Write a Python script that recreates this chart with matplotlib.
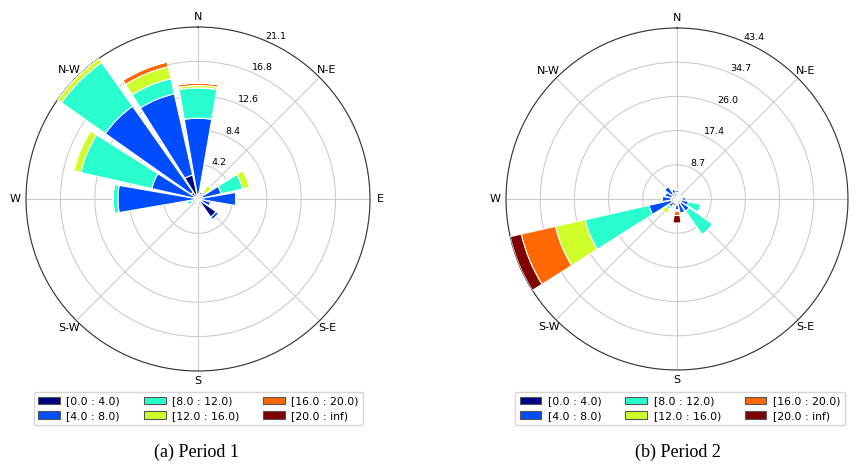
import numpy as np
import matplotlib
matplotlib.use('Agg')
import matplotlib.pyplot as plt
from matplotlib.patches import Patch

# 16 wind directions, clockwise from north
directions = ['N', 'NNE', 'NE', 'ENE', 'E', 'ESE', 'SE', 'SSE',
              'S', 'SSW', 'SW', 'WSW', 'W', 'WNW', 'NW', 'NNW']
dir_labels = ['N', 'N-E', 'E', 'S-E', 'S', 'S-W', 'W', 'N-W']
speed_bins = ['[0.0 : 4.0)', '[4.0 : 8.0)', '[8.0 : 12.0)',
              '[12.0 : 16.0)', '[16.0 : 20.0)', '[20.0 : inf)']

# frequency (%) per direction, one list per speed bin
p1_0_4 = [0.3, 0.6, 0.3, 0.3, 0.3, 0.4, 2.7, 0.8, 0.4, 0.3, 0.2, 0.2, 0.3, 0.5, 1.0, 3.0]
p1_4_8 = [9.6, 0.3, 0.5, 2.6, 4.4, 1.2, 0.4, 0.2, 0.2, 0.2, 0.1, 0.6, 9.5, 5.3, 12.9, 10.2]
p1_8_12 = [3.7, 0, 0.3, 2.7, 0, 0, 0, 0, 0, 0, 0, 0.6, 0.6, 8.9, 6.56, 1.9]
p1_12_16 = [0.3, 0, 1.0, 0.9, 0, 0, 0, 0, 0, 0, 0, 0, 0, 0.9, 0.6, 1.5]
p1_16_20 = [0.3, 0, 0, 0, 0, 0, 0, 0, 0, 0, 0, 0, 0, 0, 0, 0.6]
p1_20_inf = [0, 0, 0, 0, 0, 0, 0, 0, 0, 0, 0, 0, 0, 0, 0, 0]

p2_0_4 = [1.6, 1.2, 0.8, 0.6, 0.8, 1.0, 1.2, 1.0, 1.5, 0.8, 1.0, 1.5, 1.5, 1.3, 1.5, 1.6]
p2_4_8 = [0.6, 0.3, 0.2, 0.3, 1.6, 2.0, 2.6, 2.8, 1.3, 0.3, 1.5, 5.8, 2.3, 1.8, 2.4, 1.0]
p2_8_12 = [0, 0, 0, 0, 0, 3.3, 7.3, 0, 0, 0, 0.8, 16.6, 0, 0.4, 0, 0]
p2_12_16 = [0, 0, 0, 0, 0, 0, 0, 0, 0.3, 0, 1.3, 7.7, 0, 0, 0, 0.4]
p2_16_20 = [0, 0, 0, 0, 0, 0, 0, 0, 1.1, 0, 0, 8.9, 0, 0, 0, 0]
p2_20_inf = [0, 0, 0, 0, 0, 0, 0, 0, 1.9, 0.7, 0, 2.88, 0, 0, 0, 0]

period1 = [p1_0_4, p1_4_8, p1_8_12, p1_12_16, p1_16_20, p1_20_inf]
period2 = [p2_0_4, p2_4_8, p2_8_12, p2_12_16, p2_16_20, p2_20_inf]

colors = plt.cm.jet(np.linspace(0, 1, len(speed_bins)))


def windrose(ax, table, labels):
    n = len(directions)
    theta = np.arange(n) * 2 * np.pi / n
    width = 2 * np.pi / n * 0.87
    ax.set_theta_zero_location('N')
    ax.set_theta_direction(-1)
    offset = np.zeros(n)
    for vals, c in zip(table, colors):
        vals = np.array(vals, dtype=float)
        ax.bar(theta, vals, width=width, bottom=offset, color=c,
               edgecolor='white', linewidth=0.8, zorder=3)
        offset = offset + vals
    rmax = offset.max()
    ax.set_rmax(rmax)
    ax.set_rmin(0)
    ticks = np.linspace(0, rmax, 6)[1:]
    ax.set_rgrids(ticks, labels=['%.1f' % t for t in ticks], angle=23, fontsize=6.8)
    ax.set_thetagrids(np.arange(0, 360, 45), labels=labels, fontsize=8)
    ax.grid(color='#cccccc', linewidth=0.8)
    ax.spines['polar'].set_linewidth(0.8)
    ax.spines['polar'].set_color('#333333')
    ax.tick_params(axis='x', pad=-3)


fig = plt.figure(figsize=(8.56, 4.65), dpi=100)
ax1 = fig.add_axes([26 / 856, 94 / 465, 344 / 856, 344 / 465], projection='polar')
ax2 = fig.add_axes([506 / 856, 95 / 465, 342 / 856, 342 / 465], projection='polar')
windrose(ax1, period1, dir_labels)
# the east label of the right rose falls outside the page
windrose(ax2, period2, ['' if d == 'E' else d for d in dir_labels])

handles = [Patch(facecolor=c, edgecolor='#555555', linewidth=0.8) for c in colors]
for cx in [198.5 / 856, 680 / 856]:
    fig.legend(handles, speed_bins, ncol=3, loc='upper center',
               bbox_to_anchor=(cx, 73 / 465), borderaxespad=0, fontsize=7.8,
               columnspacing=2.2, handlelength=2.0, handletextpad=0.6,
               labelspacing=0.4)

fig.text(197 / 856, 13 / 465, '(a) Period 1', ha='center', va='center',
         family='Liberation Serif', fontsize=13)
fig.text(678 / 856, 13 / 465, '(b) Period 2', ha='center', va='center',
         family='Liberation Serif', fontsize=13)

fig.savefig('out.png', dpi=100)
